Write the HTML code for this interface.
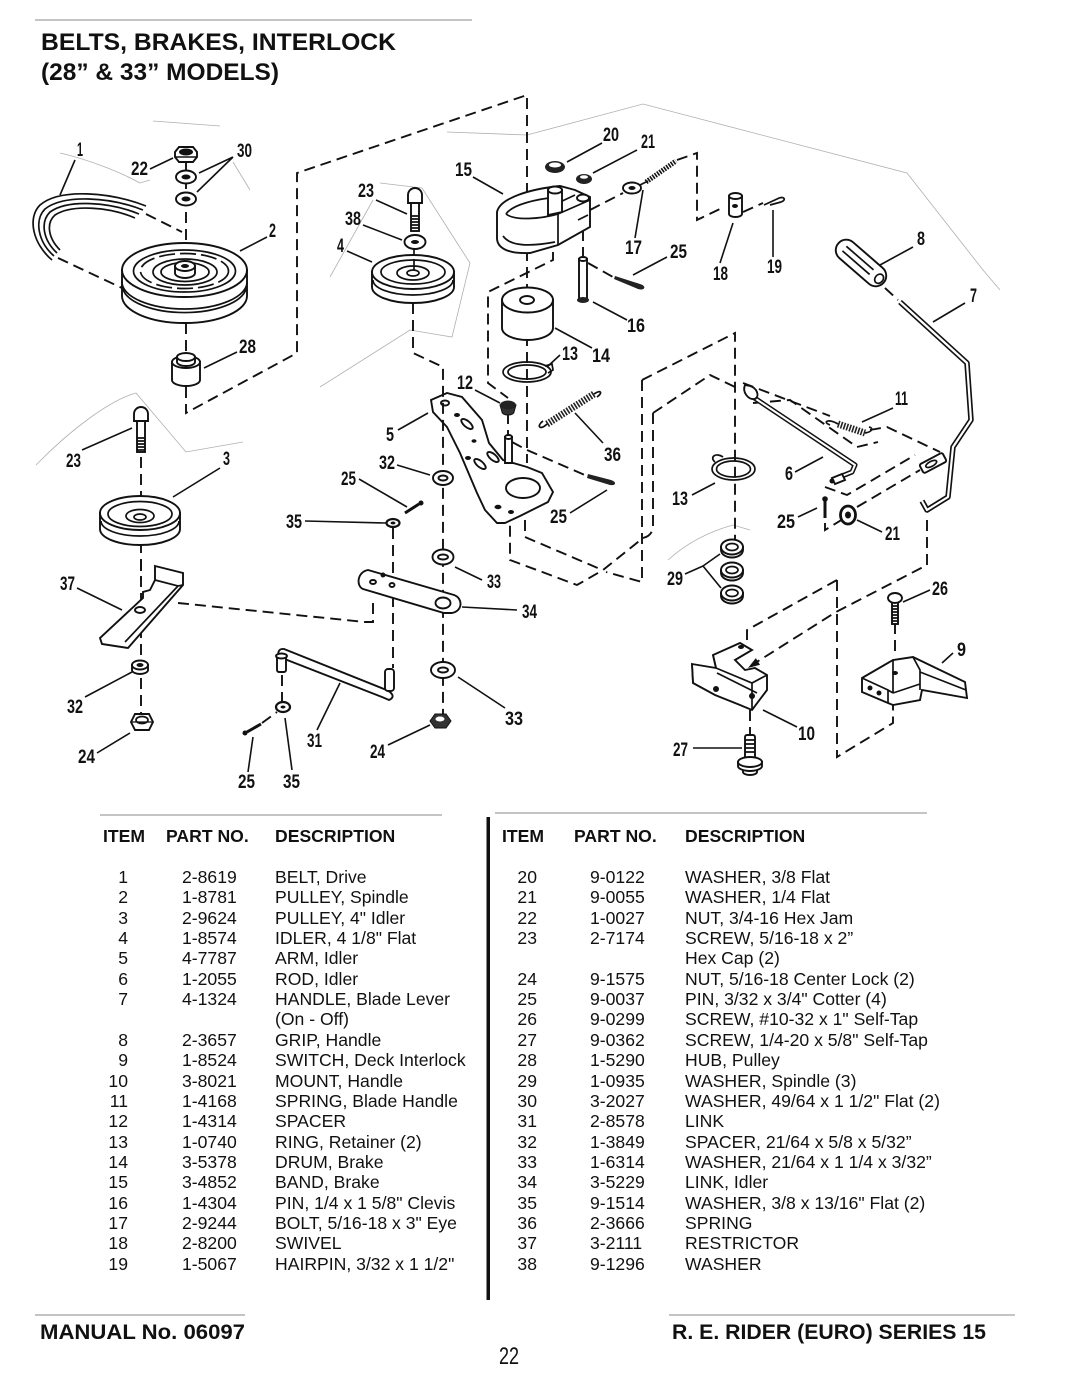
<!DOCTYPE html>
<html><head><meta charset="utf-8"><title>Belts, Brakes, Interlock</title>
<style>
html,body{margin:0;padding:0;background:#fff;}
svg{display:block;}
.s{stroke:#111;stroke-width:1.9;fill:#fff;}
.n{fill:none;stroke:#111;stroke-width:1.7;}
.d{fill:none;stroke:#111;stroke-width:1.9;stroke-dasharray:11 6;}
.l{fill:none;stroke:#111;stroke-width:1.6;}
.f{fill:none;stroke:#b0b0b0;stroke-width:0.8;}
.lb{font-weight:bold;font-size:19.5px;fill:#111;}
.th{font-weight:bold;font-size:17.6px;fill:#111;}
.tb{font-size:17.6px;fill:#111;}
</style></head><body>
<svg width="1080" height="1398" viewBox="0 0 1080 1398" xmlns="http://www.w3.org/2000/svg" font-family="'Liberation Sans', Arial, sans-serif">
<rect width="1080" height="1398" fill="#fff"/>

<!-- header -->
<line x1="35" y1="20" x2="472" y2="20" stroke="#888" stroke-width="1"/>
<text x="41" y="50" font-weight="bold" font-size="24.5" textLength="355" lengthAdjust="spacingAndGlyphs" fill="#111">BELTS, BRAKES, INTERLOCK</text>
<text x="41" y="80" font-weight="bold" font-size="24.5" textLength="238" lengthAdjust="spacingAndGlyphs" fill="#111">(28” &amp; 33” MODELS)</text>

<!-- faint scan lines -->
<path class="f" d="M153,121 L220,126"/>
<path class="f" d="M60,153 C90,160 120,172 140,183 L150,180"/>
<path class="f" d="M233,162 L250,190"/>
<path class="f" d="M447,132 L527,135 L643,104 L907,173 L983,270 L1000,290"/>
<path class="f" d="M380,183 L422,188 L452,235 L470,263 L452,337 L410,330 L320,387"/>
<path class="f" d="M373,200 L330,277"/>
<path class="f" d="M36,465 C70,430 110,400 136,393 L186,452 L243,442"/>
<path class="f" d="M668,560 C690,540 715,530 733,525 L750,530"/>

<!-- ARM 5 (drawn under dashed line) -->
<path class="s" stroke-width="2" d="M431,400 L447,393 L462,397 L482,420 L489,443 L503,460 L527,467 L542,473 L553,492 L548,502 L520,516 L505,523 L497,523 L485,510 L477,493 L460,453 L447,427 L433,412 Z"/>
<ellipse class="s" cx="445" cy="403" rx="4" ry="2.5"/>
<ellipse cx="457" cy="415" rx="3" ry="2" fill="#111"/>
<ellipse cx="468" cy="458" rx="3" ry="2" fill="#111"/>
<ellipse cx="498" cy="507" rx="3.5" ry="2.2" fill="#111"/>
<ellipse cx="511" cy="512" rx="3" ry="2" fill="#111"/>
<ellipse cx="474" cy="441" rx="2.5" ry="1.8" fill="#111"/>
<ellipse class="s" cx="467" cy="424" rx="7" ry="3" transform="rotate(40 467 424)"/>
<ellipse class="s" cx="480" cy="464" rx="7" ry="3" transform="rotate(40 480 464)"/>
<ellipse class="s" cx="493" cy="457" rx="7" ry="3" transform="rotate(40 493 457)"/>
<ellipse class="s" cx="523" cy="488" rx="17" ry="10" stroke-width="2"/>
<path class="s" d="M505,437 L505,463 L512,463 L512,437 Z"/>
<ellipse class="s" cx="508.5" cy="437" rx="3.5" ry="2"/>

<!-- dashed assembly lines -->
<path class="d" d="M186,161 L186,245"/>
<path class="d" d="M186,323 L186,356"/>
<path class="d" d="M186,387 L186,413 L297,353 L297,173 L527,95 L527,192"/>
<path class="d" d="M146,214 L182,232"/>
<path class="d" d="M58,258 L122,288"/>
<path class="n" d="M414,249 L414,257"/>
<path class="d" d="M413,303 L413,353 L443,367 L443,722"/>
<path class="d" d="M527,250 L527,463"/>
<path class="d" d="M553,252 L553,260 L488,292 L488,383 L508,398"/>
<path class="d" d="M590,210 L623,193"/>
<path class="d" d="M677,160 L697,153 L697,220 L722,208"/>
<path class="d" d="M743,212 L763,203"/>
<path class="d" d="M583,230 L583,256"/>
<path class="d" d="M588,263 L613,277"/>
<path class="d" d="M512,442 L527,450 L587,476"/>
<path class="d" d="M642,380 L735,333 L735,547"/>
<path class="d" d="M642,380 L642,582 L606,572"/>
<path class="d" d="M653,413 L710,375 L735,387"/>
<path class="d" d="M653,413 L653,527 Q652,536 643,538 L603,570 L577,585 L510,560 L510,523"/>
<path class="d" d="M525,520 L525,537 L600,569"/>
<path class="d" d="M743,383 L830,416"/>
<path class="d" d="M753,403 L790,400 L857,447 L878,442"/>
<path class="d" d="M870,430 L887,427 L940,452"/>
<path class="d" d="M825,487 L847,495 L915,455"/>
<path class="d" d="M825,523 L825,530 L843,519"/>
<path class="d" d="M857,507 L920,470"/>
<path class="d" d="M927,520 L927,565 L836,612 L752,665"/>
<path fill="#111" d="M748,668 L760,664.7 L755.8,658.1 Z"/>
<path class="d" d="M837,580 L837,757 L893,723 L893,703"/>
<path class="d" d="M837,580 L747,630 L747,646"/>
<path class="d" d="M895,623 L895,657"/>
<path class="d" d="M750,710 L750,735"/>
<path class="d" d="M885,288 L898,300"/>
<path class="d" d="M178,603 L365,622 L373,622 L373,597"/>
<path class="d" d="M393,528 L393,668"/>
<path class="d" d="M282,675 L282,702"/>
<path class="d" d="M262,723 L277,712"/>
<path class="d" d="M141,423 L141,722"/>
<path class="d" d="M508,413 L508,435"/>

<!-- BELT 1 -->
<g class="n" stroke-width="1.9">
<path d="M146,206 C110,192 60,188 40,205 C27,218 33,244 52,260"/>
<path d="M143,210 C110,197 64,194 45,209 C34,220 38,242 54,256"/>
<path d="M139,214 C110,202 68,199 50,212 C40,222 43,240 57,253"/>
<path d="M135,218 C110,207 72,204 55,215 C46,223 48,238 60,250"/>
</g>

<!-- NUT 22 -->
<path class="s" d="M175,152 L179,147 L193,147 L197,152 L197,157 L193,162 L179,162 L175,157 Z"/>
<ellipse cx="186" cy="152" rx="7" ry="3.5" fill="#111"/>
<line x1="175" y1="157" x2="197" y2="157" stroke="#111" stroke-width="1.4"/>
<!-- WASHERS 30 -->
<ellipse class="s" cx="186" cy="177" rx="10" ry="6.5" stroke-width="2.2"/>
<ellipse cx="186" cy="177" rx="4.5" ry="2.5" fill="#111"/>
<ellipse class="s" cx="186" cy="199" rx="10" ry="6.5" stroke-width="2.2"/>
<ellipse cx="186" cy="199" rx="4.5" ry="2.5" fill="#111"/>

<!-- PULLEY 2 -->
<path class="s" stroke-width="2" d="M122,270 L122,296 A62.5,27 0 0 0 247,296 L247,270 Z"/>
<path class="n" d="M122,282 A62.5,27 0 0 0 247,282"/>
<path class="n" stroke-width="2.6" d="M123,289 A62,27 0 0 0 246,289"/>
<ellipse class="s" cx="184.5" cy="270" rx="62.5" ry="27" stroke-width="2"/>
<ellipse class="n" cx="184.5" cy="271" rx="51" ry="21"/>
<ellipse class="n" cx="184.5" cy="271" rx="44" ry="17.5" stroke-dasharray="16 5"/>
<ellipse class="n" cx="185" cy="272" rx="32" ry="13"/>
<ellipse class="n" cx="185" cy="272" rx="24" ry="9.5"/>
<path class="s" d="M175,266 L175,273 A10,5 0 0 0 195,273 L195,266 Z"/>
<ellipse class="s" cx="185" cy="266" rx="10" ry="5"/>
<ellipse cx="185" cy="266" rx="4" ry="2" fill="#111"/>

<!-- HUB 28 -->
<path class="s" d="M172,362 L172,380 A14,6 0 0 0 200,380 L200,362 Z"/>
<ellipse class="s" cx="186" cy="362" rx="14" ry="6"/>
<path class="s" d="M177,357 L177,362 A9,4 0 0 0 195,362 L195,357 Z"/>
<ellipse class="s" cx="186" cy="357" rx="9" ry="4"/>

<!-- BOLT 23 upper, WASHER 38, PULLEY 4 -->
<rect class="s" x="411" y="201" width="8" height="30"/>
<path class="s" d="M408,203 L408,195 A7,7 0 0 1 422,195 L422,203 Z"/>
<path class="n" stroke-width="1.2" d="M411,216 H419 M411,219 H419 M411,222 H419 M411,225 H419 M411,228 H419"/>
<ellipse class="s" cx="415" cy="242" rx="10.5" ry="7" stroke-width="2.4"/>
<ellipse cx="415" cy="242" rx="4" ry="2" fill="#111"/>
<path class="s" d="M372,272 L372,287 A41,16 0 0 0 454,287 L454,272 Z"/>
<path class="n" d="M373,280 A40,15 0 0 0 453,280"/>
<ellipse class="s" cx="413" cy="272" rx="41" ry="17"/>
<ellipse class="n" cx="413" cy="272" rx="32" ry="12"/>
<ellipse class="n" cx="413" cy="273" rx="16" ry="7"/>
<ellipse class="n" cx="413" cy="273" rx="6" ry="3"/>
<path class="n" d="M414,259 L414,270"/>

<!-- BAND 15 -->
<path class="s" stroke-width="2.1" d="M497,212 C500,198 530,189 560,186 L575,190 L590,197 L590,227 L558,245 L530,253 C508,254 497,248 497,238 Z"/>
<path class="n" d="M506,214 C512,205 535,199 558,197"/>
<path class="n" d="M506,214 C515,221 540,219 558,214"/>
<path class="n" d="M558,214 L558,245 M558,214 L590,200 M558,203 L575,195"/>
<path class="s" d="M548,190 L548,215 L562,212 L562,190 Z"/>
<ellipse class="s" cx="555" cy="190" rx="7" ry="3.5"/>
<ellipse class="s" cx="583" cy="198" rx="6" ry="3.5"/>
<path class="n" d="M578,220 L588,215"/>
<path class="n" d="M503,236 C510,246 528,247 555,242"/>

<!-- WASHERS 20, 21 -->
<ellipse cx="555" cy="167" rx="10" ry="6" fill="#222"/>
<ellipse cx="555" cy="165" rx="6" ry="2.5" fill="#fff"/>
<ellipse cx="584" cy="179" rx="8" ry="5" fill="#222"/>
<ellipse cx="584" cy="177" rx="4" ry="1.8" fill="#fff"/>

<!-- EYE BOLT 17 -->
<path stroke="#111" stroke-width="5" stroke-dasharray="1.6 1.2" fill="none" d="M646,182 L676,161"/>
<path class="n" stroke-width="3" d="M638,186 L648,181"/>
<ellipse class="s" cx="632" cy="188" rx="9" ry="5.5" stroke-width="2"/>
<ellipse cx="632" cy="188" rx="3.5" ry="2" fill="#111"/>

<!-- SWIVEL 18, HAIRPIN 19 -->
<path class="s" d="M729,196 L729,214 A6.5,3 0 0 0 742,214 L742,196 Z"/>
<ellipse class="s" cx="735.5" cy="196" rx="6.5" ry="3"/>
<ellipse cx="735" cy="206" rx="3" ry="2" fill="#111"/>
<path class="n" stroke-width="2" d="M764,205 L777,199 C784,195 787,200 781,202 L770,205"/>

<!-- PIN 16, COTTER 25 -->
<path class="s" d="M579,259 L579,300 L587,300 L587,259 Z"/>
<ellipse class="s" cx="583" cy="259" rx="4" ry="2"/>
<ellipse cx="583" cy="300" rx="6" ry="3" fill="#222"/>
<path fill="#222" d="M615,276 L640,284 C647,286 645,291 638,289 L614,279 Z"/>

<!-- DRUM 14 -->
<path class="s" stroke-width="2" d="M502,300 L502,328 A25.5,12 0 0 0 553,328 L553,300 Z"/>
<ellipse class="s" cx="527.5" cy="300" rx="25.5" ry="12.5" stroke-width="2"/>
<ellipse class="s" cx="527" cy="300" rx="7" ry="4" stroke-width="2"/>

<!-- RING 13 upper -->
<ellipse class="n" cx="527" cy="372" rx="24" ry="10" stroke-width="2.6"/>
<ellipse class="n" cx="527" cy="372" rx="19" ry="7" stroke-width="1"/>
<path class="n" stroke-width="1.8" d="M545,366 L552,364 L553,370 L548,373"/>

<!-- SPACER 12 -->
<path fill="#333" stroke="#111" d="M500,405 L502,412 A6,3 0 0 0 514,412 L516,405 Z"/>
<ellipse cx="508" cy="405" rx="8" ry="4.5" fill="#222"/>

<!-- SPRING 36 -->
<path stroke="#222" stroke-width="7" stroke-dasharray="1.6 1.4" fill="none" d="M547,424 L594,394"/>
<path class="n" d="M547,424 C540,431 536,426 543,421"/>
<path class="n" d="M594,394 C601,389 603,393 597,397"/>
<!-- COTTER 25 near arm -->
<path fill="#222" d="M588,474 L611,480 C617,482 616,486 610,485 L587,478 Z"/>

<!-- WASHERS 32/33/35, COTTER -->
<ellipse class="s" cx="443" cy="478" rx="10" ry="7" stroke-width="2"/>
<ellipse class="s" cx="443" cy="478" rx="4.5" ry="2.5"/>
<ellipse class="s" cx="443" cy="557" rx="10.5" ry="7.5" stroke-width="2"/>
<ellipse class="s" cx="443" cy="557" rx="5" ry="2.5"/>
<ellipse cx="393" cy="523" rx="6.5" ry="4" fill="#fff" stroke="#111" stroke-width="2.2"/>
<ellipse cx="393" cy="523" rx="2.5" ry="1.5" fill="#111"/>
<path stroke="#111" stroke-width="3" d="M405,513 L419,504"/>
<circle cx="421" cy="503" r="2.5" fill="#111"/>

<!-- LINK 34 -->
<path class="s" stroke-width="2" d="M368,570 L454,595 C463,598 463,611 452,613 L444,613 L363,589 C356,586 357,572 368,570 Z"/>
<ellipse class="s" cx="373" cy="582" rx="3" ry="2"/>
<circle cx="383" cy="575" r="2.5" fill="#111"/>
<ellipse class="s" cx="392" cy="585" rx="2.5" ry="2"/>
<ellipse class="s" cx="443" cy="603" rx="7.5" ry="5.5"/>

<!-- WASHER 33 lower, NUT 24 right -->
<ellipse class="s" cx="443" cy="670" rx="12" ry="8" stroke-width="2.2"/>
<ellipse class="s" cx="443" cy="670" rx="5" ry="2.5"/>
<path fill="#333" stroke="#111" d="M430,721 L435,714 L446,714 L451,721 L446,728 L435,728 Z"/>
<ellipse cx="440" cy="719" rx="4.5" ry="2.5" fill="#fff"/>

<!-- LINK 31 -->
<path class="s" stroke-width="1.9" d="M284,649 L384,689 C392,692 396,697 389,700 L382,697 L282,658 C276,655 278,648 284,649 Z"/>
<rect class="s" x="277" y="656" width="9" height="16" rx="2"/>
<ellipse class="s" cx="281.5" cy="656" rx="5.5" ry="2.5"/>
<rect class="s" x="385" y="669" width="9" height="22" rx="3"/>
<ellipse cx="283" cy="707" rx="7" ry="5" fill="#fff" stroke="#111" stroke-width="2.2"/>
<ellipse cx="283" cy="707" rx="2.5" ry="1.5" fill="#111"/>
<path stroke="#111" stroke-width="3" d="M247,732 L261,724"/>
<circle cx="245" cy="733" r="2.5" fill="#111"/>

<!-- BOLT 23 lower, PULLEY 3 -->
<rect class="s" x="137" y="421" width="8" height="31"/>
<path class="s" d="M134,421 L134,414 A7,7 0 0 1 148,414 L148,421 Z"/>
<path class="n" stroke-width="1.2" d="M137,438 H145 M137,441 H145 M137,444 H145 M137,447 H145 M137,450 H145"/>
<path class="s" d="M100,513 L100,529 A40,16 0 0 0 180,529 L180,513 Z"/>
<path class="n" d="M101,521 A39,15 0 0 0 179,521"/>
<ellipse class="s" cx="140" cy="513" rx="40" ry="17" stroke-width="2.1"/>
<ellipse class="n" cx="140" cy="514" rx="32" ry="12.5"/>
<ellipse class="n" cx="140" cy="516" rx="14" ry="6.5"/>
<ellipse class="n" cx="140" cy="517" rx="6" ry="3"/>

<!-- RESTRICTOR 37 -->
<path class="s" stroke-width="2" d="M155,566 L183,573 L183,585 L128,648 L102,644 L100,638 L143,598 L143,592 L150,590 L155,580 Z"/>
<path class="n" d="M155,580 L178,586 L183,585 M178,586 L125,642"/>
<ellipse class="s" cx="140" cy="610" rx="5" ry="3"/>
<path class="d" d="M141,560 L141,580"/>

<!-- SPACER 32 left, NUT 24 left -->
<path class="s" d="M132,665 L132,670 A8,4 0 0 0 148,670 L148,665 Z"/>
<ellipse class="s" cx="140" cy="665" rx="8" ry="4.5"/>
<ellipse cx="140" cy="665" rx="3.5" ry="2" fill="#111"/>
<path class="s" stroke-width="1.9" d="M131,722 L135,714 L149,714 L153,722 L149,730 L135,730 Z"/>
<ellipse class="n" cx="142" cy="720" rx="6" ry="3.5"/>
<line x1="131" y1="722" x2="153" y2="722" stroke="#111" stroke-width="1.2"/>

<!-- GRIP 8 -->
<g transform="translate(861,263) rotate(41)">
<rect class="s" x="-30" y="-10.5" width="60" height="21" rx="10.5" stroke-width="2.1"/>
<path class="n" stroke-width="1.2" d="M-22,-3 L14,-3 M-22,3 L14,3"/>
<ellipse class="n" cx="24" cy="0" rx="4" ry="5"/>
</g>

<!-- HANDLE 7 -->
<path fill="none" stroke="#111" stroke-width="5.5" stroke-linejoin="round" d="M900,302 L967,363 L971,420 L953,447 L948,497 L927,510 L922,501"/>
<path fill="none" stroke="#fff" stroke-width="2.2" stroke-linejoin="round" d="M900,302 L967,363 L971,420 L953,447 L948,497 L927,510 L922,501"/>
<g transform="translate(933,463) rotate(-28)">
<rect class="s" x="-13" y="-5" width="26" height="10" rx="2"/>
<ellipse class="n" cx="-2" cy="0" rx="6" ry="2.5"/>
</g>

<!-- ROD 6 -->
<path fill="none" stroke="#111" stroke-width="5" stroke-linejoin="round" d="M753,397 L855,465 L852,472 L842,476"/>
<path fill="none" stroke="#fff" stroke-width="2" stroke-linejoin="round" d="M753,397 L855,465 L852,472 L842,476"/>
<path class="s" d="M745,385 C742,392 748,400 755,399 C760,396 757,388 750,386 Z"/>
<path class="s" d="M832,478 L842,474 L845,480 L835,484 Z"/>
<circle cx="832" cy="481" r="2.5" fill="#111"/>

<!-- SPRING 11 -->
<path stroke="#222" stroke-width="7" stroke-dasharray="1.6 1.4" fill="none" d="M838,424 L865,433"/>
<path class="n" d="M838,424 C828,418 822,422 830,425"/>
<path class="n" d="M865,433 C872,432 874,428 869,427"/>

<!-- RING 13 lower -->
<ellipse class="n" cx="733.5" cy="469" rx="21.5" ry="11" stroke-width="2.6"/>
<ellipse class="n" cx="733.5" cy="469" rx="17" ry="8" stroke-width="1"/>
<path class="n" stroke-width="1.8" d="M715,462 C709,457 716,452 723,457"/>

<!-- WASHERS 29 -->
<g>
<path class="s" stroke-width="2" d="M721,547 L721,550 A11,7.5 0 0 0 743,550 L743,547 Z"/>
<ellipse class="s" cx="732" cy="547" rx="11" ry="7.5" stroke-width="2.2"/>
<ellipse class="n" cx="732" cy="547" rx="6" ry="3.5"/>
<path class="s" stroke-width="2" d="M721,570 L721,573 A11,7.5 0 0 0 743,573 L743,570 Z"/>
<ellipse class="s" cx="732" cy="570" rx="11" ry="7.5" stroke-width="2.2"/>
<ellipse class="n" cx="732" cy="570" rx="6" ry="3.5"/>
<path class="s" stroke-width="2" d="M721,593 L721,596 A11,7.5 0 0 0 743,596 L743,593 Z"/>
<ellipse class="s" cx="732" cy="593" rx="11" ry="7.5" stroke-width="2.2"/>
<ellipse class="n" cx="732" cy="593" rx="6" ry="3.5"/>
</g>

<!-- COTTER 25 right, WASHER 21 right -->
<path stroke="#111" stroke-width="3" d="M825,500 L825,518"/>
<circle cx="825" cy="499" r="2.8" fill="#111"/>
<ellipse cx="848" cy="515" rx="7.5" ry="9" fill="#fff" stroke="#111" stroke-width="2.8"/>
<ellipse cx="848" cy="515" rx="3" ry="3.5" fill="#111"/>

<!-- SCREW 26 -->
<rect class="s" x="892" y="601" width="6" height="23"/>
<path class="n" stroke-width="1.1" d="M892,606 H898 M892,609 H898 M892,612 H898 M892,615 H898 M892,618 H898 M892,621 H898"/>
<ellipse class="s" cx="895" cy="598" rx="7" ry="5"/>

<!-- SWITCH 9 -->
<path class="s" stroke-width="1.9" d="M862,678 L893,660 L913,657 L965,682 L967,698 L922,690 L920,700 L893,705 L888,703 L862,692 Z"/>
<path class="n" stroke-width="1.3" d="M893,660 L893,693 M862,678 L888,690 L893,693 M888,690 L888,703 M913,657 L920,670 L920,690 M893,693 L920,684 M920,672 L966,690"/>
<circle cx="870" cy="688" r="2.5" fill="#111"/>
<circle cx="879" cy="693" r="2.5" fill="#111"/>
<ellipse cx="895" cy="673" rx="3" ry="2" fill="#111"/>

<!-- MOUNT 10 -->
<path class="s" stroke-width="1.9" d="M692,664 L716,668 L713,655 L740,643 L752,650 L735,660 L745,670 L755,668 L767,675 L767,690 L752,710 L740,705 L715,695 L693,683 Z"/>
<path class="n" stroke-width="1.3" d="M692,664 L693,683 M716,668 L752,683 L767,675 M752,683 L752,710 M713,655 L716,668 M717,673 L757,693"/>
<circle cx="716" cy="689" r="3" fill="#111"/>
<circle cx="752" cy="696" r="3" fill="#111"/>
<ellipse cx="741" cy="647" rx="3" ry="2" fill="#111"/>

<!-- SCREW 27 -->
<rect class="s" x="745" y="735" width="10" height="24" rx="2"/>
<path class="n" stroke-width="1.1" d="M745,740 H755 M745,744 H755 M745,748 H755 M745,752 H755"/>
<path class="s" d="M743,766 L743,772 A7,3 0 0 0 757,772 L757,766 Z"/>
<path class="s" d="M738,762 L738,766 A12,5 0 0 0 762,766 L762,762 Z"/>
<ellipse class="s" cx="750" cy="762" rx="12" ry="5"/>

<!-- leader lines -->
<path class="l" d="M75,160 L60,195 M150,169 L173,158 M233,157 L199,173 M233,157 L197,192 M267,237 L240,251 M237,352 L204,368 M376,200 L407,214 M363,225 L402,240 M347,251 L372,262 M473,177 L503,194 M602,143 L567,162 M637,150 L593,173 M635,238 L643,190 M667,257 L633,275 M720,263 L733,223 M773,210 L773,257 M913,247 L880,265 M965,303 L933,322 M627,320 L593,302 M560,355 L547,367 M592,348 L555,328 M475,390 L500,403 M893,408 L862,422 M398,430 L428,413 M603,443 L575,413 M397,465 L430,475 M359,479 L407,507 M795,472 L823,457 M692,495 L715,483 M570,513 L607,490 M798,517 L817,508 M305,521 L386,523 M882,532 L857,520 M220,468 L173,497 M82,450 L132,428 M77,588 L122,610 M482,580 L455,567 M685,574 L703,566 M703,566 L720,554 M703,566 L721,588 M930,590 L903,602 M462,607 L517,610 M953,653 L942,663 M85,697 L132,672 M505,708 L458,677 M317,730 L340,683 M797,727 L763,710 M693,748 L742,748 M97,753 L130,733 M388,745 L430,725 M248,772 L253,737 M292,770 L285,718"/>

<!-- part labels -->
<g class="lb">
<text x="77" y="156" textLength="6" lengthAdjust="spacingAndGlyphs">1</text>
<text x="131" y="175" textLength="17" lengthAdjust="spacingAndGlyphs">22</text>
<text x="237" y="157" textLength="15" lengthAdjust="spacingAndGlyphs">30</text>
<text x="269" y="237" textLength="7" lengthAdjust="spacingAndGlyphs">2</text>
<text x="239" y="353" textLength="17" lengthAdjust="spacingAndGlyphs">28</text>
<text x="358" y="197" textLength="16" lengthAdjust="spacingAndGlyphs">23</text>
<text x="345" y="225" textLength="16" lengthAdjust="spacingAndGlyphs">38</text>
<text x="337" y="252" textLength="7" lengthAdjust="spacingAndGlyphs">4</text>
<text x="455" y="176" textLength="17" lengthAdjust="spacingAndGlyphs">15</text>
<text x="603" y="141" textLength="16" lengthAdjust="spacingAndGlyphs">20</text>
<text x="641" y="148" textLength="14" lengthAdjust="spacingAndGlyphs">21</text>
<text x="625" y="254" textLength="17" lengthAdjust="spacingAndGlyphs">17</text>
<text x="670" y="258" textLength="17" lengthAdjust="spacingAndGlyphs">25</text>
<text x="713" y="280" textLength="15" lengthAdjust="spacingAndGlyphs">18</text>
<text x="767" y="273" textLength="15" lengthAdjust="spacingAndGlyphs">19</text>
<text x="917" y="245" textLength="8" lengthAdjust="spacingAndGlyphs">8</text>
<text x="970" y="302" textLength="7" lengthAdjust="spacingAndGlyphs">7</text>
<text x="627" y="332" textLength="18" lengthAdjust="spacingAndGlyphs">16</text>
<text x="562" y="360" textLength="16" lengthAdjust="spacingAndGlyphs">13</text>
<text x="592" y="362" textLength="18" lengthAdjust="spacingAndGlyphs">14</text>
<text x="457" y="389" textLength="16" lengthAdjust="spacingAndGlyphs">12</text>
<text x="895" y="405" textLength="13" lengthAdjust="spacingAndGlyphs">11</text>
<text x="386" y="441" textLength="8" lengthAdjust="spacingAndGlyphs">5</text>
<text x="604" y="461" textLength="17" lengthAdjust="spacingAndGlyphs">36</text>
<text x="379" y="469" textLength="16" lengthAdjust="spacingAndGlyphs">32</text>
<text x="341" y="485" textLength="15" lengthAdjust="spacingAndGlyphs">25</text>
<text x="785" y="480" textLength="8" lengthAdjust="spacingAndGlyphs">6</text>
<text x="672" y="505" textLength="16" lengthAdjust="spacingAndGlyphs">13</text>
<text x="550" y="523" textLength="17" lengthAdjust="spacingAndGlyphs">25</text>
<text x="777" y="528" textLength="18" lengthAdjust="spacingAndGlyphs">25</text>
<text x="286" y="528" textLength="16" lengthAdjust="spacingAndGlyphs">35</text>
<text x="885" y="540" textLength="15" lengthAdjust="spacingAndGlyphs">21</text>
<text x="223" y="465" textLength="7" lengthAdjust="spacingAndGlyphs">3</text>
<text x="66" y="467" textLength="15" lengthAdjust="spacingAndGlyphs">23</text>
<text x="60" y="590" textLength="15" lengthAdjust="spacingAndGlyphs">37</text>
<text x="487" y="588" textLength="14" lengthAdjust="spacingAndGlyphs">33</text>
<text x="667" y="585" textLength="16" lengthAdjust="spacingAndGlyphs">29</text>
<text x="932" y="595" textLength="16" lengthAdjust="spacingAndGlyphs">26</text>
<text x="522" y="618" textLength="15" lengthAdjust="spacingAndGlyphs">34</text>
<text x="957" y="656" textLength="9" lengthAdjust="spacingAndGlyphs">9</text>
<text x="67" y="713" textLength="16" lengthAdjust="spacingAndGlyphs">32</text>
<text x="505" y="725" textLength="18" lengthAdjust="spacingAndGlyphs">33</text>
<text x="307" y="747" textLength="15" lengthAdjust="spacingAndGlyphs">31</text>
<text x="798" y="740" textLength="17" lengthAdjust="spacingAndGlyphs">10</text>
<text x="673" y="756" textLength="15" lengthAdjust="spacingAndGlyphs">27</text>
<text x="78" y="763" textLength="17" lengthAdjust="spacingAndGlyphs">24</text>
<text x="370" y="758" textLength="15" lengthAdjust="spacingAndGlyphs">24</text>
<text x="238" y="788" textLength="17" lengthAdjust="spacingAndGlyphs">25</text>
<text x="283" y="788" textLength="17" lengthAdjust="spacingAndGlyphs">35</text>
</g>

<!-- TABLE -->
<line x1="100" y1="815" x2="442" y2="815" stroke="#888" stroke-width="1"/>
<line x1="495" y1="813" x2="927" y2="813" stroke="#888" stroke-width="1"/>
<rect x="486.5" y="817" width="3.5" height="483" fill="#111"/>

<text class="th" x="103" y="842">ITEM</text>
<text class="th" x="166" y="842">PART NO.</text>
<text class="th" x="275" y="842">DESCRIPTION</text>
<text class="th" x="502" y="842">ITEM</text>
<text class="th" x="574" y="842">PART NO.</text>
<text class="th" x="685" y="842">DESCRIPTION</text>

<g class="tb">
<g text-anchor="end">
<text x="128" y="883">1</text>
<text x="128" y="903">2</text>
<text x="128" y="924">3</text>
<text x="128" y="944">4</text>
<text x="128" y="964">5</text>
<text x="128" y="985">6</text>
<text x="128" y="1005">7</text>
<text x="128" y="1046">8</text>
<text x="128" y="1066">9</text>
<text x="128" y="1087">10</text>
<text x="128" y="1107">11</text>
<text x="128" y="1127">12</text>
<text x="128" y="1148">13</text>
<text x="128" y="1168">14</text>
<text x="128" y="1188">15</text>
<text x="128" y="1209">16</text>
<text x="128" y="1229">17</text>
<text x="128" y="1249">18</text>
<text x="128" y="1270">19</text>
<text x="537" y="883">20</text>
<text x="537" y="903">21</text>
<text x="537" y="924">22</text>
<text x="537" y="944">23</text>
<text x="537" y="985">24</text>
<text x="537" y="1005">25</text>
<text x="537" y="1025">26</text>
<text x="537" y="1046">27</text>
<text x="537" y="1066">28</text>
<text x="537" y="1087">29</text>
<text x="537" y="1107">30</text>
<text x="537" y="1127">31</text>
<text x="537" y="1148">32</text>
<text x="537" y="1168">33</text>
<text x="537" y="1188">34</text>
<text x="537" y="1209">35</text>
<text x="537" y="1229">36</text>
<text x="537" y="1249">37</text>
<text x="537" y="1270">38</text>
</g>
<text x="182" y="883">2-8619</text>
<text x="182" y="903">1-8781</text>
<text x="182" y="924">2-9624</text>
<text x="182" y="944">1-8574</text>
<text x="182" y="964">4-7787</text>
<text x="182" y="985">1-2055</text>
<text x="182" y="1005">4-1324</text>
<text x="182" y="1046">2-3657</text>
<text x="182" y="1066">1-8524</text>
<text x="182" y="1087">3-8021</text>
<text x="182" y="1107">1-4168</text>
<text x="182" y="1127">1-4314</text>
<text x="182" y="1148">1-0740</text>
<text x="182" y="1168">3-5378</text>
<text x="182" y="1188">3-4852</text>
<text x="182" y="1209">1-4304</text>
<text x="182" y="1229">2-9244</text>
<text x="182" y="1249">2-8200</text>
<text x="182" y="1270">1-5067</text>

<text x="275" y="883">BELT, Drive</text>
<text x="275" y="903">PULLEY, Spindle</text>
<text x="275" y="924">PULLEY, 4" Idler</text>
<text x="275" y="944">IDLER, 4 1/8" Flat</text>
<text x="275" y="964">ARM, Idler</text>
<text x="275" y="985">ROD, Idler</text>
<text x="275" y="1005">HANDLE, Blade Lever</text>
<text x="275" y="1025">(On - Off)</text>
<text x="275" y="1046">GRIP, Handle</text>
<text x="275" y="1066">SWITCH, Deck Interlock</text>
<text x="275" y="1087">MOUNT, Handle</text>
<text x="275" y="1107">SPRING, Blade Handle</text>
<text x="275" y="1127">SPACER</text>
<text x="275" y="1148">RING, Retainer (2)</text>
<text x="275" y="1168">DRUM, Brake</text>
<text x="275" y="1188">BAND, Brake</text>
<text x="275" y="1209">PIN, 1/4 x 1 5/8" Clevis</text>
<text x="275" y="1229">BOLT, 5/16-18 x 3" Eye</text>
<text x="275" y="1249">SWIVEL</text>
<text x="275" y="1270">HAIRPIN, 3/32 x 1 1/2"</text>

<text x="590" y="883">9-0122</text>
<text x="590" y="903">9-0055</text>
<text x="590" y="924">1-0027</text>
<text x="590" y="944">2-7174</text>
<text x="590" y="985">9-1575</text>
<text x="590" y="1005">9-0037</text>
<text x="590" y="1025">9-0299</text>
<text x="590" y="1046">9-0362</text>
<text x="590" y="1066">1-5290</text>
<text x="590" y="1087">1-0935</text>
<text x="590" y="1107">3-2027</text>
<text x="590" y="1127">2-8578</text>
<text x="590" y="1148">1-3849</text>
<text x="590" y="1168">1-6314</text>
<text x="590" y="1188">3-5229</text>
<text x="590" y="1209">9-1514</text>
<text x="590" y="1229">2-3666</text>
<text x="590" y="1249">3-2111</text>
<text x="590" y="1270">9-1296</text>

<text x="685" y="883">WASHER, 3/8 Flat</text>
<text x="685" y="903">WASHER, 1/4 Flat</text>
<text x="685" y="924">NUT, 3/4-16 Hex Jam</text>
<text x="685" y="944">SCREW, 5/16-18 x 2”</text>
<text x="685" y="964">Hex Cap (2)</text>
<text x="685" y="985">NUT, 5/16-18 Center Lock (2)</text>
<text x="685" y="1005">PIN, 3/32 x 3/4" Cotter (4)</text>
<text x="685" y="1025">SCREW, #10-32 x 1" Self-Tap</text>
<text x="685" y="1046">SCREW, 1/4-20 x 5/8" Self-Tap</text>
<text x="685" y="1066">HUB, Pulley</text>
<text x="685" y="1087">WASHER, Spindle (3)</text>
<text x="685" y="1107">WASHER, 49/64 x 1 1/2" Flat (2)</text>
<text x="685" y="1127">LINK</text>
<text x="685" y="1148">SPACER, 21/64 x 5/8 x 5/32”</text>
<text x="685" y="1168">WASHER, 21/64 x 1 1/4 x 3/32”</text>
<text x="685" y="1188">LINK, Idler</text>
<text x="685" y="1209">WASHER, 3/8 x 13/16" Flat (2)</text>
<text x="685" y="1229">SPRING</text>
<text x="685" y="1249">RESTRICTOR</text>
<text x="685" y="1270">WASHER</text>
</g>

<!-- FOOTER -->
<line x1="35" y1="1315" x2="245" y2="1315" stroke="#888" stroke-width="1"/>
<line x1="669" y1="1315" x2="1015" y2="1315" stroke="#888" stroke-width="1"/>
<text x="40" y="1339" font-weight="bold" font-size="21" textLength="205" lengthAdjust="spacingAndGlyphs" fill="#111">MANUAL No. 06097</text>
<text x="672" y="1339" font-weight="bold" font-size="21" textLength="314" lengthAdjust="spacingAndGlyphs" fill="#111">R. E. RIDER (EURO) SERIES 15</text>
<text x="499" y="1364" font-size="24" textLength="20" lengthAdjust="spacingAndGlyphs" fill="#111">22</text>
</svg>
</body></html>
